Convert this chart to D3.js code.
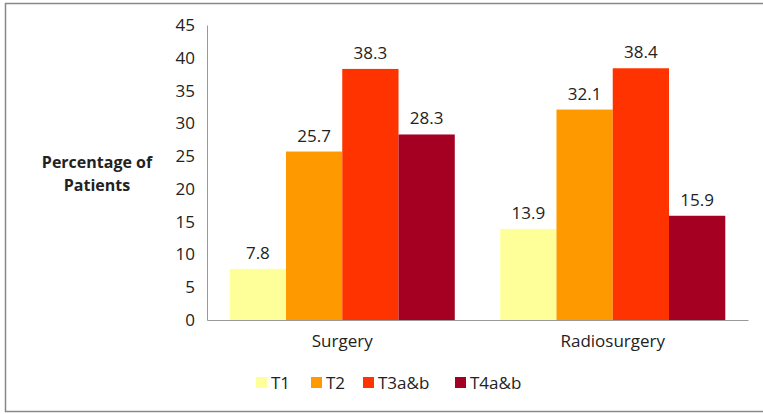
<!DOCTYPE html>
<html>
<head>
<meta charset="utf-8">
<script src="https://cdn.jsdelivr.net/npm/d3@7"></script>
<style>
  body { margin: 0; background: #fff; }
  svg text { font-family: "Open Sans", sans-serif; fill: #222; }
</style>
</head>
<body>
<script>
const categories = ['Surgery', 'Radiosurgery'];
const series = ['T1', 'T2', 'T3a&b', 'T4a&b'];
const values = [
  [7.8, 25.7, 38.3, 28.3],
  [13.9, 32.1, 38.4, 15.9]
];
const yTicks = [0, 5, 10, 15, 20, 25, 30, 35, 40, 45];
const colors = ['#FFFF99', '#FF9900', '#FF3300', '#A50021'];

const width = 763, height = 414;
const plotLeft = 207, plotRight = 748, plotTop = 25, plotBottom = 320;

const svg = d3.select('body').append('svg')
    .attr('width', width)
    .attr('height', height);

// outer frame
svg.append('rect')
    .attr('x', 5.5).attr('y', 3.5)
    .attr('width', 770).attr('height', 408)
    .attr('fill', 'none')
    .attr('stroke', '#888')
    .attr('stroke-width', 1.5);

const x0 = d3.scaleBand()
    .domain(categories)
    .range([plotLeft, plotRight]);

const x1 = d3.scaleBand()
    .domain(series)
    .range([0, x0.bandwidth()])
    .paddingOuter(0.404);

const y = d3.scaleLinear()
    .domain([0, 45])
    .range([plotBottom, plotTop]);

const color = d3.scaleOrdinal().domain(series).range(colors);

// y axis
const yAxis = svg.append('g')
    .attr('transform', `translate(${plotLeft},0)`)
    .call(d3.axisLeft(y).tickValues(yTicks).tickSize(0).tickPadding(12));
yAxis.select('.domain').attr('stroke', '#999');
yAxis.selectAll('text').style('font-size', '17px').attr('fill', '#222');

// x baseline
const xAxis = svg.append('g')
    .attr('transform', `translate(0,${plotBottom})`)
    .call(d3.axisBottom(x0).tickSize(0).tickPadding(15));
xAxis.select('.domain').attr('stroke', '#999');
xAxis.selectAll('text').style('font-size', '17px').attr('fill', '#222');

// bars
const groups = svg.append('g').selectAll('g')
    .data(categories)
    .enter()
    .append('g')
    .attr('transform', d => `translate(${x0(d)},0)`);

groups.selectAll('rect')
    .data((d, i) => series.map((s, j) => ({ s, v: values[i][j] })))
    .enter()
    .append('rect')
    .attr('x', d => x1(d.s))
    .attr('y', d => y(d.v))
    .attr('width', x1.bandwidth())
    .attr('height', d => y(0) - y(d.v))
    .attr('fill', d => color(d.s));

groups.selectAll('text.val')
    .data((d, i) => series.map((s, j) => ({ s, v: values[i][j] })))
    .enter()
    .append('text')
    .attr('class', 'val')
    .attr('x', d => x1(d.s) + x1.bandwidth() / 2)
    .attr('y', d => y(d.v) - 10)
    .attr('text-anchor', 'middle')
    .style('font-size', '17px')
    .text(d => d.v);

// y title
const title = svg.append('text')
    .attr('text-anchor', 'middle')
    .style('font-size', '16px')
    .style('font-weight', 'bold')
    .attr('fill', '#000');
title.append('tspan').attr('x', 97).attr('y', 168).text('Percentage of');
title.append('tspan').attr('x', 97).attr('y', 191).text('Patients');

// legend
const legendX = [256, 311, 363, 455];
const legend = svg.append('g').selectAll('g')
    .data(series)
    .enter()
    .append('g')
    .attr('transform', (d, i) => `translate(${legendX[i]},377)`);
legend.append('rect')
    .attr('width', 11).attr('height', 11)
    .attr('fill', d => color(d));
legend.append('text')
    .attr('x', 15).attr('y', 12)
    .style('font-size', '17px')
    .text(d => d);
</script>
</body>
</html>
